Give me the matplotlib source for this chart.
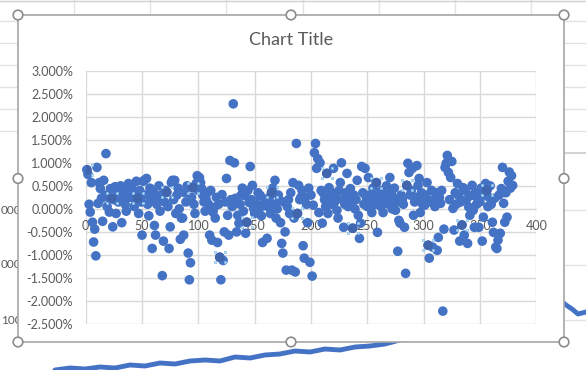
import matplotlib
matplotlib.use("Agg")
import matplotlib.pyplot as plt
from matplotlib.patches import Rectangle, Circle
from matplotlib.ticker import FuncFormatter
from matplotlib.transforms import offset_copy

# ---------------- data (daily returns, %) ----------------
returns_pct = [
    0.85, 0.75, 0.10, -0.07, 0.57, -0.29, -0.72, -0.44, -1.02, 0.90,
    0.12, 0.57, 0.44, 0.23, -0.27, 0.62, 0.30, 1.20, 0.05, 0.25,
    -0.07, 0.44, 0.23, -0.39, 0.20, 0.48, -0.10, 0.35, 0.15, 0.40,
    0.50, -0.30, 0.28, 0.45, 0.10, -0.05, 0.38, 0.55, 0.25, 0.30,
    0.45, 0.35, 0.05, 0.20, 0.60, 0.23, -0.10, 0.40, 0.15, -0.57,
    0.60, 0.62, 0.30, 0.66, 0.10, -0.15, 0.45, 0.20, -0.86, 0.36,
    -0.36, -0.57, 0.10, 0.25, 0.50, -0.05, 0.30, -1.45, -0.70, 0.15,
    0.40, 0.36, 0.05, -0.86, -0.39, 0.57, 0.62, 0.20, 0.62, -0.10,
    0.30, 0.45, 0.00, -0.66, -0.20, -0.20, -0.57, 0.35, 0.15, 0.50,
    -0.96, -1.54, -1.17, 0.25, 0.46, 0.10, -0.10, 0.55, 0.72, 0.40,
    0.68, 0.57, 0.44, 0.30, 0.15, -0.05, 0.20, 0.35, 0.10, -0.57,
    0.40, -0.68, -0.07, 0.03, -0.20, 0.25, -0.73, 0.10, -1.05, -1.54,
    0.31, -1.12, -0.50, 0.15, 0.66, -0.14, -0.57, 1.05, 0.20, 0.05,
    2.28, 1.00, 0.23, -0.50, -0.14, -0.31, 0.10, 0.30, 0.45, -0.05,
    0.29, -0.53, -0.29, 0.40, 0.14, 0.92, 0.20, 0.51, 0.01, -0.10,
    0.15, -0.05, 0.35, 0.00, 0.29, -0.15, -0.73, 0.10, 0.07, 0.20,
    -0.64, 0.05, 0.25, -0.10, 0.36, 0.45, 0.10, 0.62, -0.20, 0.00,
    0.30, 0.18, -0.30, -0.75, -0.96, 0.15, -0.50, -1.33, 0.05, 0.20,
    -0.10, 0.35, -1.33, 0.57, -0.20, -1.37, 1.42, -0.10, 0.51, 0.20,
    0.25, 0.40, -0.80, -1.07, 0.25, 0.10, -0.30, 0.45, -1.16, 0.30,
    -1.46, 0.08, 1.22, 1.42, 0.88, 1.09, -0.08, 1.00, 0.40, -0.31,
    0.34, 0.20, 0.05, 0.77, -0.10, 0.46, 0.25, 0.10, 0.35, 0.88,
    0.15, 0.30, -0.03, -0.20, 0.40, 0.57, 1.00, 0.20, -0.40, 0.10,
    0.35, 0.77, 0.05, 0.25, 0.44, 0.15, -0.42, 0.30, 0.00, 0.20,
    0.62, -0.14, -0.64, -0.31, 0.92, 0.35, 0.10, 0.88, 0.25, 0.05,
    0.68, 0.30, 0.15, -0.08, 0.45, 0.20, 0.10, 0.57, -0.51, 0.35,
    0.25, 0.05, 0.40, -0.08, 0.30, 0.15, 0.50, 0.20, 0.10, 0.68,
    0.35, 0.00, 0.25, 0.45, -0.03, 0.15, -0.92, -0.25, -0.31, 0.30,
    0.20, 0.10, -0.40, -1.40, 0.51, 0.99, 0.79, 0.30, 0.40, 0.88,
    -0.14, 0.15, 0.25, 0.94, 0.51, 0.66, -0.08, 0.35, 0.10, 0.20,
    0.08, 0.30, 0.57, -0.79, -1.07, 0.15, 0.40, -0.83, 0.20, 0.05,
    0.35, -0.90, -0.62, 0.25, 0.12, 0.40, -2.22, -0.44, 0.90, 0.99,
    1.16, 0.79, 0.20, 0.68, 1.03, 0.01, -0.46, 0.35, 0.10, 0.55,
    0.29, -0.70, 0.15, -0.35, 0.46, -0.57, 0.40, 0.20, -0.75, 0.04,
    -0.14, 0.29, 0.51, -0.03, -0.40, 0.35, 0.10, 0.23, -0.40, 0.15,
    0.45, -0.70, -0.18, 0.30, 0.55, 0.40, 0.05, 0.25, 0.50, 0.10,
    -0.29, -0.51, 0.23, -0.83, -0.86, -0.68, 0.30, -0.53, 0.44, 0.90,
    0.12, -0.29, 0.35, -0.18, 0.60, 0.80, 0.45, 0.72, 0.51,
]
day_index = list(range(1, len(returns_pct) + 1))

# points that carry selection handles
handle_index = [1, 23, 46, 72, 95, 119, 143, 165, 188, 214, 237, 258, 285, 304, 334, 356]

title_text = "Chart Title"
x_ticks = [0, 50, 100, 150, 200, 250, 300, 350, 400]
y_ticks = [-2.5, -2.0, -1.5, -1.0, -0.5, 0.0, 0.5, 1.0, 1.5, 2.0, 2.5, 3.0]

# background chart (partly hidden behind the selected chart)
bg_labels = ["000", "000", "100"]
bg_label_y = [210, 265, 320]
bg_line_x = [55, 70, 85, 100, 115, 130, 145, 160, 175, 190, 205, 220, 235, 250, 265,
             280, 295, 310, 325, 340, 355, 370, 385, 400,
             560, 566, 572, 578, 586]
bg_line_y = [370, 368, 369, 367, 368, 365, 366, 363, 364, 361, 360, 361, 357, 358, 355,
             354, 351, 352, 349, 350, 347, 346, 344, 340,
             300, 305, 309, 314, 312]

W, H = 586, 370
fig = plt.figure(figsize=(W / 100, H / 100), dpi=100)
fig.patch.set_facecolor("white")

FONT = ["Lato", "DejaVu Sans"]
GRAY_TXT = "#595959"
BLUE = "#4472C4"

# ---- decoration layer in pixel coordinates ----
bg = fig.add_axes([0, 0, 1, 1])
bg.set_xlim(0, W)
bg.set_ylim(H, 0)
bg.axis("off")

sheet_col = "#e2e2e2"
for cx in [74, 150, 226, 303, 379, 455, 531]:
    bg.plot([cx, cx], [0, 16], color=sheet_col, lw=1, zorder=0)
bg.plot([0, W], [1, 1], color="#d0d0d0", lw=1, zorder=0)
for ry in [21, 43, 65, 87, 109, 131]:
    bg.plot([0, 18], [ry, ry], color=sheet_col, lw=1, zorder=0)
    bg.plot([564, W], [ry, ry], color=sheet_col, lw=1, zorder=0)
bg.plot([564, W], [153, 153], color="#d4d4d4", lw=1.5, zorder=0)
for gy in bg_label_y:
    bg.plot([564, W], [gy, gy], color=sheet_col, lw=1, zorder=0)
for lab, ly in zip(bg_labels, bg_label_y):
    bg.text(1, ly, lab, ha="left", va="center", fontsize=8.5, color=GRAY_TXT,
            family=FONT, zorder=0)
bg.plot(bg_line_x, bg_line_y, color=BLUE, lw=3.5, zorder=1, solid_capstyle="round",
        solid_joinstyle="round")

# chart area
x0, y0, x1, y1 = 18, 15, 564, 342
bg.add_patch(Rectangle((x0, y0), x1 - x0, y1 - y0, facecolor="white",
                       edgecolor="#a6a6a6", lw=1.2, zorder=2))
for hx, hy in [(x0, y0), ((x0 + x1) / 2, y0), (x1, y0), (x0, (y0 + y1) / 2),
               (x1, (y0 + y1) / 2), (x0, y1), ((x0 + x1) / 2, y1), (x1, y1)]:
    bg.add_patch(Circle((hx, hy), 4.8, facecolor="white", edgecolor="#8c8c8c",
                        lw=1.2, zorder=3))

bg.text(291, 40, title_text, ha="center", va="center", fontsize=13,
        color=GRAY_TXT, family=FONT, zorder=4)

# ---- plot area ----
left_px, right_px, top_px, bot_px = 85.7, 536.3, 70.7, 324.0
ax = fig.add_axes([left_px / W, 1 - bot_px / H, (right_px - left_px) / W,
                   (bot_px - top_px) / H])
ax.patch.set_alpha(0)
ax.set_xlim(0, 400)
ax.set_ylim(-2.5, 3.0)
ax.set_xticks(x_ticks)
ax.set_yticks(y_ticks)
ax.yaxis.set_major_formatter(FuncFormatter(lambda v, p: f"{v:.3f}%"))
ax.grid(True, color="#d9d9d9", lw=1)
ax.set_axisbelow(True)
for s in ["top", "right", "left"]:
    ax.spines[s].set_visible(False)
ax.spines["bottom"].set_position(("data", 0))
ax.spines["bottom"].set_color("#d9d9d9")
ax.tick_params(axis="both", length=0, labelsize=9, labelcolor=GRAY_TXT)
ax.tick_params(axis="x", pad=8)
ax.tick_params(axis="y", pad=9)
for lab in ax.get_xticklabels() + ax.get_yticklabels():
    lab.set_family(FONT)

ax.scatter(day_index, returns_pct, s=48, color=BLUE, edgecolors="none",
           zorder=3, clip_on=False)

# selection handles around a few points (subtle corner squares)
hx_vals = [day_index[i - 1] for i in handle_index]
hy_vals = [returns_pct[i - 1] for i in handle_index]
ax.scatter(hx_vals, hy_vals, s=48, color="#4166ad", edgecolors="none", zorder=4)
for dx, dy in [(-5, -5), (-5, 5), (5, -5), (5, 5)]:
    tr = offset_copy(ax.transData, fig=fig, x=dx, y=dy, units="dots")
    ax.scatter(hx_vals, hy_vals, s=4, marker="s", color="#cfe8fb",
               edgecolors="#7fbbe9", linewidths=0.5, transform=tr, zorder=5)

fig.savefig("out.png", dpi=100)
